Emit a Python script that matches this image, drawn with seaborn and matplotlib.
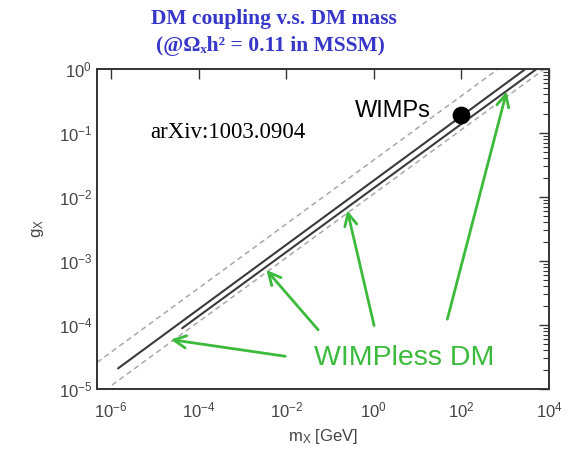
import numpy as np
import pandas as pd
import seaborn as sns
import matplotlib
matplotlib.use("Agg")
import matplotlib.pyplot as plt
from matplotlib.ticker import LogLocator, NullLocator, LogFormatterSciNotation

# ---- data ----
# each relic-density line: endpoints (m_X [GeV], g_X)
solid_upper_m = [1.45e-6, 2.9e3]
solid_upper_g = [2.1e-5, 1.0]
solid_lower_m = [4.2e-5, 5.2e3]
solid_lower_g = [8.9e-5, 1.0]
dash_upper_m = [4.8e-7, 6.9e2]
dash_upper_g = [2.6e-5, 1.0]
dash_lower_m = [1.05e-6, 7.9e3]
dash_lower_g = [1.15e-5, 1.0]

wimp_m = [100.0]
wimp_g = [0.19]

# arrows: tails (near label) -> heads (on the band)
arrow_tail_m = [1.1e-2, 5.9e-2, 1.05, 46.0]
arrow_tail_g = [3.2e-5, 7.8e-5, 8.9e-5, 1.12e-4]
arrow_head_m = [2.0e-5, 3.2e-3, 0.24, 1.12e3]
arrow_head_g = [6.0e-5, 7.8e-4, 6.8e-3, 0.49]

xticks = [1e-6, 1e-4, 1e-2, 1e0, 1e2, 1e4]
yticks = [1e-5, 1e-4, 1e-3, 1e-2, 1e-1, 1e0]

sns.set_theme(style="white")
plt.rcParams["font.family"] = ["Liberation Sans", "DejaVu Sans"]
plt.rcParams["mathtext.fontset"] = "custom"
plt.rcParams["mathtext.rm"] = "Liberation Sans"
plt.rcParams["mathtext.it"] = "Liberation Sans:italic"
plt.rcParams["mathtext.bf"] = "Liberation Sans:bold"

fig = plt.figure(figsize=(5.85, 4.49), dpi=100)
ax = fig.add_axes([97/585, 1-389/449, (549-97)/585, (389-69)/449])
ax.set_xscale("log")
ax.set_yscale("log")

dash_col = "#a8a8a8"
solid_col = "#3a3a3a"
for m, g in [(dash_upper_m, dash_upper_g), (dash_lower_m, dash_lower_g)]:
    sns.lineplot(x=m, y=g, ax=ax, color=dash_col, lw=1.1, linestyle=(0, (3.5, 2.5)))
for m, g in [(solid_upper_m, solid_upper_g), (solid_lower_m, solid_lower_g)]:
    sns.lineplot(x=m, y=g, ax=ax, color=solid_col, lw=1.5)

sns.scatterplot(x=wimp_m, y=wimp_g, ax=ax, color="black", s=140, edgecolor="black", zorder=5)

green = "#3cba3c"
for tm, tg, hm, hg in zip(arrow_tail_m, arrow_tail_g, arrow_head_m, arrow_head_g):
    ax.annotate("", xy=(hm, hg), xytext=(tm, tg),
                arrowprops=dict(arrowstyle="->", color=green, lw=2.0, mutation_scale=22))

ax.text(0.68, 0.096, "WIMPless DM", transform=ax.transAxes, color=green, fontsize=20.5,
        ha="center", va="center")
ax.text(0.655, 0.87, "WIMPs", transform=ax.transAxes, color="black", fontsize=17,
        ha="center", va="center")
ax.text(0.117, 0.80, "arXiv:1003.0904", transform=ax.transAxes, color="black",
        fontsize=16.5, ha="left", va="center", family=["Liberation Serif", "DejaVu Serif"])

ax.set_xlim(10**-6.32, 1e4)
ax.set_ylim(1e-5, 1e0)
ax.set_xticks(xticks)
ax.xaxis.set_minor_locator(NullLocator())
ax.set_yticks(yticks)
ax.yaxis.set_minor_locator(LogLocator(base=10, subs=np.arange(2, 10)))
ax.xaxis.set_major_formatter(LogFormatterSciNotation())
ax.yaxis.set_major_formatter(LogFormatterSciNotation())

ax.tick_params(which="both", direction="in", top=True, right=True, colors="#333333",
               labelcolor="#444444", labelsize=12)
ax.tick_params(which="major", length=7, width=1.0)
ax.tick_params(which="minor", length=4, width=0.8)
ax.tick_params(axis="x", pad=8)
for s in ax.spines.values():
    s.set_color("#333333")
    s.set_linewidth(1.4)

ax.set_xlabel(r"m$_{\rm X}$ [GeV]", fontsize=12, color="#444444", labelpad=5)
ax.set_ylabel(r"g$_{\rm X}$", fontsize=12, color="#444444", labelpad=9)

fig.text(0.468, 0.958, "DM coupling v.s. DM mass", ha="center", va="center",
         color="#3636c8", fontsize=15.5, fontweight="bold",
         family=["Liberation Serif", "DejaVu Serif"])
fig.text(0.462, 0.897, "(@Ωₓh² = 0.11 in MSSM)", ha="center", va="center",
         color="#3636c8", fontsize=15.5, fontweight="bold",
         family=["Liberation Serif", "DejaVu Serif"])

fig.savefig("out.png", dpi=100)
